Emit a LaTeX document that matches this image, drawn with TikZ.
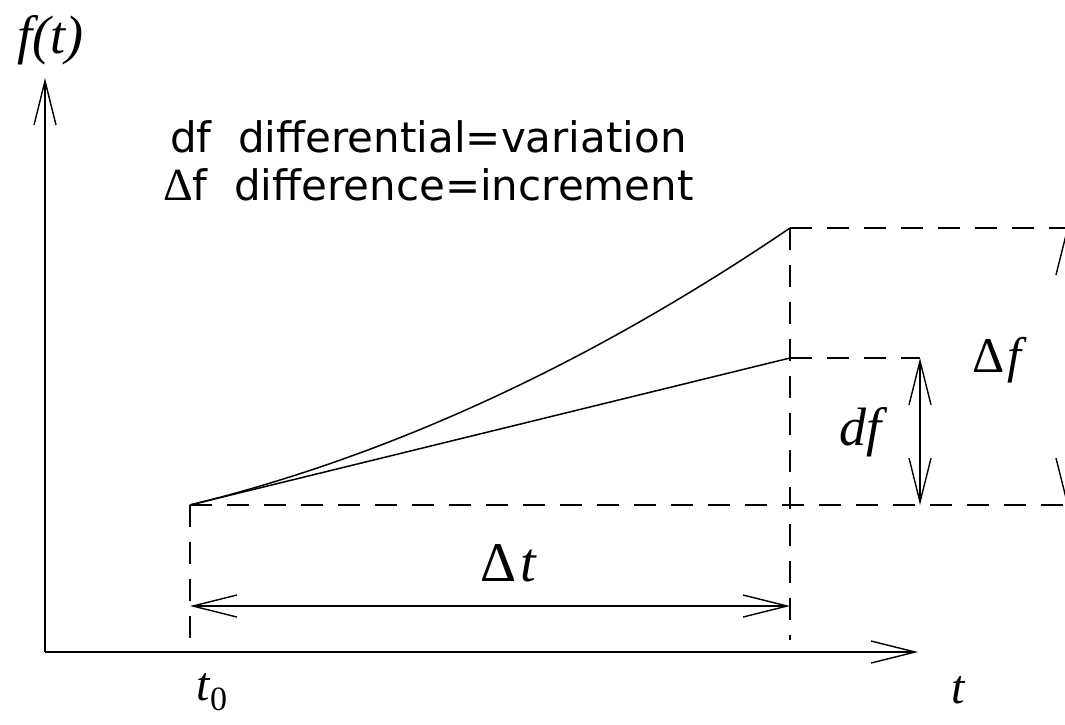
\documentclass[tikz,border=0pt]{standalone}
\usepackage{fontspec}
\setmainfont{Liberation Serif}
\newfontfamily\dejavu{DejaVu Sans}
\usetikzlibrary{arrows.meta}
\tikzset{
  barb/.style={-{Straight Barb[length=44pt,width=22pt,line width=1.4pt]}},
  dbarb/.style={{Straight Barb[length=44pt,width=22pt,line width=1.4pt]}-{Straight Barb[length=44pt,width=22pt,line width=1.4pt]}},
  axisline/.style={line width=1.8pt},
  guide/.style={line width=1.5pt, dash pattern=on 22pt off 15pt},
  curveline/.style={line width=1.5pt},
  mathlbl/.style={font=\fontsize{48}{54}\selectfont\itshape, inner sep=0pt},
  legend/.style={font=\dejavu\fontsize{42}{48}\selectfont, anchor=base west, inner sep=0pt}
}
\begin{document}
\begin{tikzpicture}[x=1pt,y=-1pt]
\useasboundingbox (0,0) rectangle (1065,725);
\clip (0,0) rectangle (1065,725);
\fill[white] (0,0) rectangle (1065,725);
% key points
\coordinate (O) at (45,652);
\coordinate (Ytop) at (45,78);
\coordinate (Xend) at (918,652);
\coordinate (P0) at (190,505);
\coordinate (P1) at (790,228);
\coordinate (P2) at (790,358);
\coordinate (B0) at (190,640);
\coordinate (B1) at (790,640);
\coordinate (R0) at (1070,505);
\coordinate (R1) at (1070,228);
\coordinate (Q2) at (920,358);
\coordinate (Q0) at (920,505);
\coordinate (T0) at (190,606);
\coordinate (T1) at (790,606);
\coordinate (F1) at (1067,228);
\coordinate (F0) at (1067,505);
% axes
\draw[axisline,barb] (O) -- (Ytop);
\draw[axisline,barb] (O) -- (Xend);
% curve and tangent
\draw[curveline] (P0) .. controls (390,456) and (590,363.7) .. (P1);
\draw[curveline] (P0) -- (P2);
% dashed guides
\draw[guide] (P0) -- (B0);
\draw[guide] (P1) -- (B1);
\draw[guide] (P0) -- (R0);
\draw[guide] (P1) -- (R1);
\draw[guide] (P2) -- (Q2);
% dimension arrows
\draw[curveline,dbarb] (T0) -- (T1);
\draw[curveline,dbarb] (Q2) -- (Q0);
\draw[curveline,dbarb] (F1) -- (F0);
% labels
\node[mathlbl,font=\fontsize{54}{60}\selectfont\itshape] (lft) at (50,40) {f(t)};
\node[mathlbl,font=\fontsize{56}{60}\selectfont\itshape] (ldt) at (508,563) {\upshape Δ\hspace{4pt}\itshape t};
\node[mathlbl,font=\fontsize{54}{60}\selectfont\itshape] (ldf) at (860,432) {df};
\node[mathlbl,font=\fontsize{50}{56}\selectfont\itshape] (lDf) at (997,360) {\upshape Δ\hspace{3pt}\itshape f};
\node[mathlbl] (lt0) at (212,692) {t\raisebox{-10pt}{\fontsize{34}{38}\selectfont\upshape 0}};
\node[mathlbl] (lt) at (958,690) {t};
\node[legend] (leg1) at (170,152) {df\ \ differential=variation};
\node[legend] (leg2) at (163,200) {{\rmfamily\fontsize{46}{50}\selectfont Δ}f\ \ difference=increment};
\end{tikzpicture}
\end{document}
